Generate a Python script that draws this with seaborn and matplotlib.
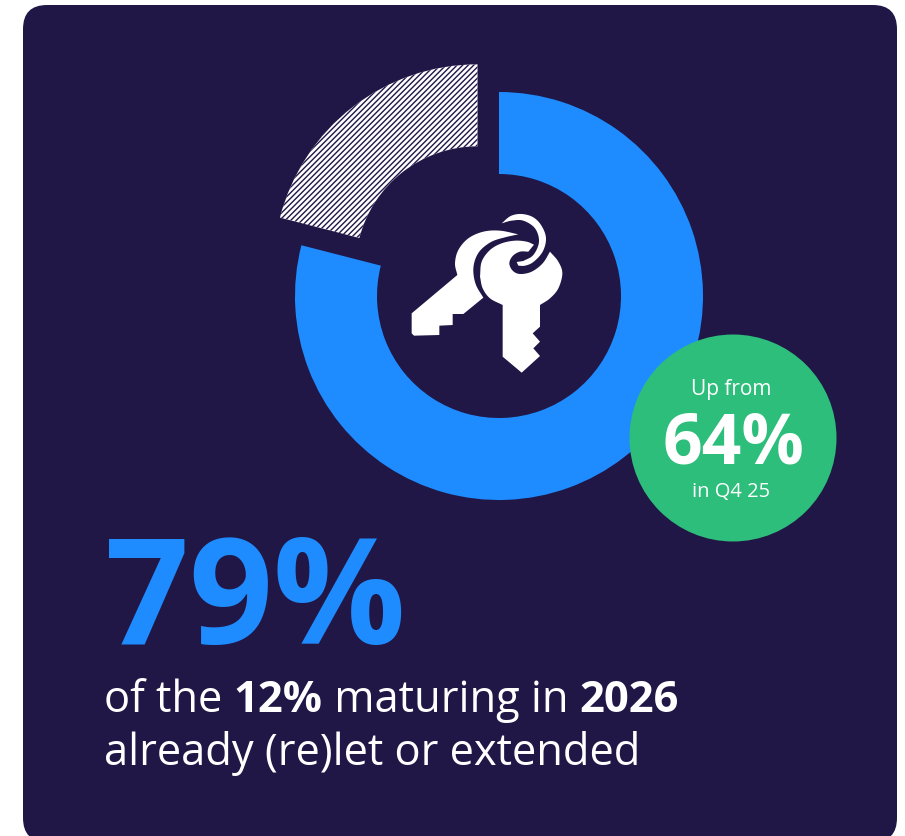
import matplotlib
matplotlib.use("Agg")
import matplotlib.pyplot as plt
import numpy as np
import seaborn as sns
from matplotlib.patches import Circle, FancyBboxPatch, PathPatch
from matplotlib.path import Path

sns.set_theme(style="white")
FONT = "Open Sans"
plt.rcParams["font.family"] = [FONT, "DejaVu Sans"]
plt.rcParams["hatch.linewidth"] = 1.0

# Share of 2026 maturities
segment_names = ["(re)let or extended", "remaining"]
segment_values = [79, 21]
previous_value = 64
previous_period = "Q4 25"
maturing_share = 12
maturing_year = 2026

navy, blue, green = sns.color_palette(["#201747", "#1E8CFF", "#2DBE7B"])
W, H = 905, 836

fig = plt.figure(figsize=(W / 100, H / 100), dpi=100, facecolor="white")
ax = fig.add_axes([0, 0, 1, 1])


def ty(y):
    """Top-down pixel row to axes y."""
    return H - y


# Panel
ax.add_patch(FancyBboxPatch((23 + 24, ty(842) + 24), 874 - 48, 837 - 48,
                            boxstyle="round,pad=24,rounding_size=24",
                            fc=navy, ec="none", zorder=0))

# Donut
wedges, _ = ax.pie(segment_values, center=(499, ty(296)), radius=204, startangle=90,
                   counterclock=False, explode=[0, 35], frame=True,
                   colors=[blue, "white"], wedgeprops=dict(width=82, linewidth=0))
wedges[1].set_edgecolor(navy)
wedges[1].set_linewidth(0)
wedges[1].set_hatch("//////")
ax.set_xlim(0, W)
ax.set_ylim(0, H)
ax.set_aspect("equal")
ax.axis("off")


# Key icon, outlined in a 3x grid anchored at (390, 200)
def curve(*pts, n=10):
    p = np.array(pts, float)
    p = np.vstack([2 * p[0] - p[1], p, 2 * p[-1] - p[-2]])
    out = []
    for i in range(1, len(p) - 2):
        for t in np.linspace(0, 1, n, endpoint=False):
            a, b, c, d = p[i - 1], p[i], p[i + 1], p[i + 2]
            out.append(0.5 * (2 * b + (c - a) * t + (2 * a - 5 * b + 4 * c - d) * t ** 2
                              + (3 * b - a - 3 * c + d) * t ** 3))
    out.append(p[-2])
    return out


def icon(*runs):
    pts = np.array([q for run in runs for q in run], float)
    xy = np.column_stack([390 + pts[:, 0] / 3, ty(200 + pts[:, 1] / 3)])
    ax.add_patch(PathPatch(Path(np.vstack([xy, xy[0]]), closed=True), fc="white", ec="none", zorder=3))


icon([(65, 340), (202, 225)],
     curve((202, 225), (195, 190), (205, 150), (235, 115), (280, 95), (330, 92), (385, 103)),
     curve((385, 103), (345, 112), (305, 125), (272, 150), (255, 180), (250, 215), (258, 255), (280, 293)),
     [(280, 293), (220, 342), (188, 342), (188, 375), (148, 377), (148, 405), (72, 407), (65, 400)])
icon(curve((270, 230), (275, 185), (300, 150), (335, 130), (375, 122), (410, 125), (432, 134)),
     [(432, 134), (415, 155)],
     curve((415, 155), (390, 155), (368, 168), (358, 190), (368, 212), (390, 222), (425, 215), (458, 190), (480, 155)),
     curve((480, 155), (505, 185), (517, 220), (505, 265), (480, 295), (450, 315)),
     [(450, 315), (450, 380), (428, 400), (450, 425), (430, 445), (450, 468), (395, 518), (338, 470), (338, 315)],
     curve((338, 315), (300, 295), (278, 265), (270, 230)))
icon(curve((335, 70), (362, 48), (395, 42), (430, 52), (455, 78), (468, 115), (458, 155), (430, 186), (405, 197), (385, 197)),
     [(385, 197), (380, 186), (400, 183)],
     curve((400, 183), (430, 165), (447, 125), (435, 85), (400, 62), (365, 62), (335, 70)))

# Comparison badge
ax.add_patch(Circle((733, ty(438)), 103.5, fc=green, ec="none", zorder=4))
ax.text(731, ty(390), "Up from", color="white", fontsize=15, ha="center", va="center", zorder=5)
ax.text(733, ty(463), f"{previous_value}%", color="white", fontsize=50, fontweight="bold",
        ha="center", va="baseline", zorder=5)
ax.text(731, ty(492), f"in {previous_period}", color="white", fontsize=14.5, ha="center", va="center", zorder=5)

# Headline figure
ax.text(105, ty(644), f"{segment_values[0]}%", color=blue, fontsize=106, fontweight="bold",
        ha="left", va="baseline", zorder=5)


def run_text(x, y, pieces, size):
    """Lay out text pieces of mixed weight along one baseline."""
    renderer = fig.canvas.get_renderer()
    for s, weight in pieces:
        t = ax.text(x, ty(y), s, color="white", fontsize=size, fontweight=weight, ha="left", va="baseline", zorder=5)
        x += t.get_window_extent(renderer).width


run_text(104, 712, [("of the ", "normal"), (f"{maturing_share}%", "bold"), (" maturing in ", "normal"),
                    (f"{maturing_year}", "bold")], 31.3)
run_text(104, 765, [("already (re)let or extended", "normal")], 31.3)

fig.savefig("out.png", dpi=100, facecolor="white")
